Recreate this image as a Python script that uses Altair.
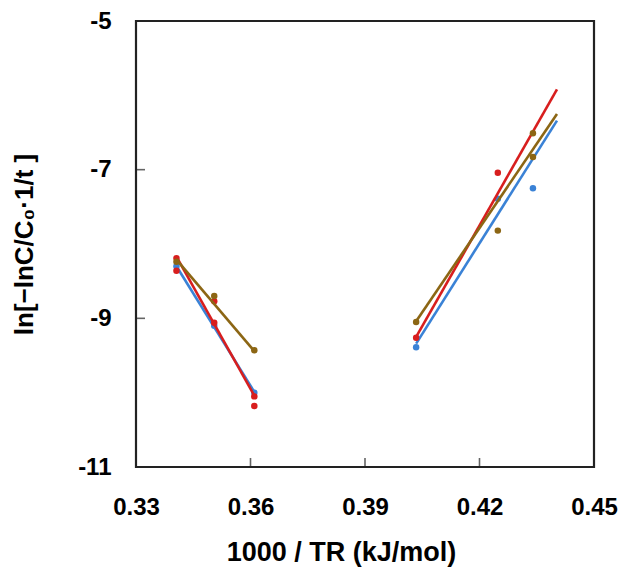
import altair as alt
import pandas as pd

# ---- data ----
series_names = ["blue", "red", "brown"]
colors = ["#3a82d6", "#d81e1e", "#8c6614"]

red_x = [0.3406, 0.3406, 0.3505, 0.3505, 0.3610, 0.3610, 0.4034, 0.4248]
red_y = [-8.19, -8.36, -8.77, -9.06, -10.05, -10.18, -9.26, -7.04]
blue_x = [0.3406, 0.3505, 0.3610, 0.4034, 0.4248, 0.4340]
blue_y = [-8.30, -9.10, -10.00, -9.39, -7.39, -7.25]
brown_x = [0.3406, 0.3505, 0.3610, 0.4034, 0.4248, 0.4340, 0.4340]
brown_y = [-8.24, -8.70, -9.43, -9.05, -7.82, -6.51, -6.83]

# fitted lines: (segment, x, y)
red_line_seg = ["L", "L", "R", "R"]
red_line_x = [0.3406, 0.3610, 0.4034, 0.4403]
red_line_y = [-8.17, -10.04, -9.25, -5.92]
blue_line_seg = ["L", "L", "R", "R"]
blue_line_x = [0.3406, 0.3610, 0.4034, 0.4403]
blue_line_y = [-8.30, -9.99, -9.34, -6.34]
brown_line_seg = ["L", "L", "R", "R"]
brown_line_x = [0.3406, 0.3610, 0.4034, 0.4403]
brown_line_y = [-8.21, -9.44, -9.04, -6.25]

x_ticks = [0.33, 0.36, 0.39, 0.42, 0.45]
y_ticks = [-11, -9, -7, -5]
x_inner_ticks = [0.36, 0.39, 0.42]
y_inner_ticks = [-9, -7]

W, H = 458, 446
FONT = "Liberation Sans"

pts = {
    "red": (red_x, red_y),
    "blue": (blue_x, blue_y),
    "brown": (brown_x, brown_y),
}
lines = {
    "red": (red_line_seg, red_line_x, red_line_y),
    "blue": (blue_line_seg, blue_line_x, blue_line_y),
    "brown": (brown_line_seg, brown_line_x, brown_line_y),
}

xscale = alt.Scale(domain=[0.33, 0.45], nice=False, zero=False)
yscale = alt.Scale(domain=[-11, -5], nice=False, zero=False)

x_axis = alt.Axis(
    values=x_ticks, labelExpr="format(datum.value, '.2f')",
    title="1000 / TR (kJ/mol)", grid=False, ticks=False, domain=False,
    labelFont=FONT, labelFontSize=24, labelFontWeight="bold", labelColor="black",
    labelPadding=28, labelFlush=False, labelOverlap=False,
    titleFont=FONT, titleFontSize=27, titleFontWeight="bold", titleColor="black",
    titleX=205, titleY=85, titleAlign="center", titleBaseline="middle",
)
y_axis = alt.Axis(
    values=y_ticks, labelExpr="datum.value + ''",
    title="ln[−lnC/C₀·1/t ]", grid=False, ticks=False, domain=False,
    labelFont=FONT, labelFontSize=24, labelFontWeight="bold", labelColor="black",
    labelPadding=25, labelOverlap=False,
    titleFont=FONT, titleFontSize=26, titleFontWeight="bold", titleColor="black",
    titleX=-112, titleY=H / 2, titleAngle=270, titleAlign="center", titleBaseline="middle",
)

X = lambda f: alt.X(f, scale=xscale, axis=x_axis)
Y = lambda f: alt.Y(f, scale=yscale, axis=y_axis)

layers = []
for name, col in zip(series_names, colors):
    seg, lx, ly = lines[name]
    ldf = pd.DataFrame({"seg": seg, "x": lx, "y": ly})
    layers.append(
        alt.Chart(ldf).mark_line(color=col, strokeWidth=2.6).encode(
            x=X("x:Q"), y=Y("y:Q"), detail="seg:N"
        )
    )
    px, py = pts[name]
    pdf = pd.DataFrame({"x": px, "y": py})
    layers.append(
        alt.Chart(pdf).mark_circle(color=col, size=42, opacity=1).encode(
            x=X("x:Q"), y=Y("y:Q")
        )
    )

xt = alt.Chart(pd.DataFrame({"x": x_inner_ticks})).mark_tick(
    orient="vertical", size=9, thickness=1.6, color="#222"
).encode(x=X("x:Q"), y=alt.value(H - 4.5))
yt = alt.Chart(pd.DataFrame({"y": y_inner_ticks})).mark_tick(
    orient="horizontal", size=9, thickness=1.6, color="#222"
).encode(y=Y("y:Q"), x=alt.value(4.5))

chart = alt.layer(*layers, xt, yt).properties(
    width=W, height=H,
    autosize=alt.AutoSizeParams(type="none"),
    padding={"left": 128, "top": 13, "right": 26, "bottom": 104},
).configure(background="white").configure_view(stroke="#222", strokeWidth=2.2)

chart.save("out.html", embed_options={"renderer": "svg", "actions": False})
